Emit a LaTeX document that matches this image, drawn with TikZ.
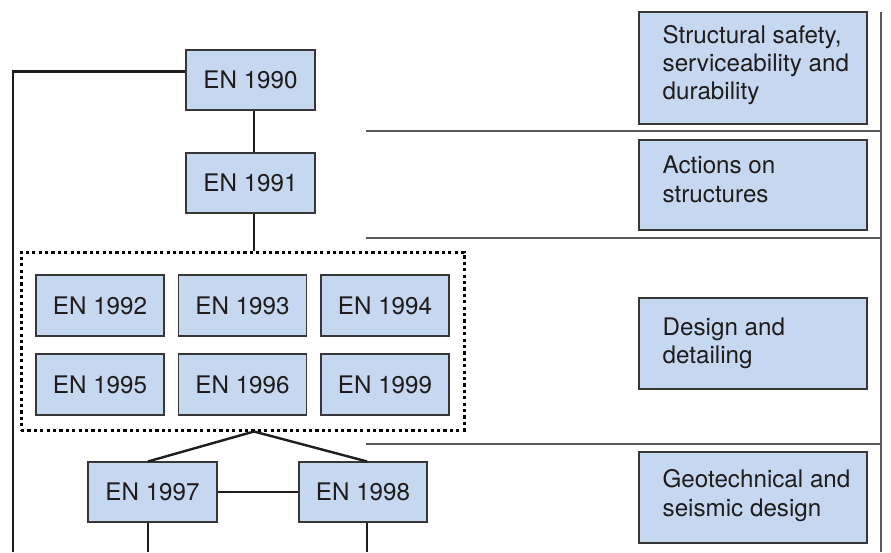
\documentclass[tikz,border=0pt]{standalone}
\usepackage{fontspec}
\setmainfont{TeX Gyre Heros}
\usetikzlibrary{calc}
\definecolor{boxfill}{RGB}{198,216,240}
\definecolor{boxline}{RGB}{55,55,55}
\definecolor{txt}{RGB}{30,28,28}
\definecolor{sepgray}{RGB}{90,90,90}
\begin{document}
\begin{tikzpicture}[x=1pt,y=-1pt,
  enbox/.style={draw=boxline, line width=1.1pt, fill=boxfill, inner sep=0pt,
    minimum height=60pt, minimum width=129pt, text=txt,
    font=\fontsize{24.2}{28.3}\selectfont},
  sidebox/.style={draw=boxline, line width=1.1pt, fill=boxfill, inner sep=0pt,
    minimum width=228pt},
  sidetext/.style={anchor=north west, inner sep=0pt, align=left, text=txt,
    font=\fontsize{24.2}{28.3}\selectfont},
  groupbox/.style={draw=black, line width=3pt, dash pattern=on 3.2pt off 3.2pt,
    inner sep=0pt, minimum width=443pt, minimum height=178pt},
  conn/.style={draw=txt, line width=2.8pt},
  sepline/.style={draw=sepgray, line width=1.4pt}]
\useasboundingbox (0,0) rectangle (891,552);

% separators on the right
\draw[sepline] (366,131) -- (881,131);
\draw[sepline] (366,238) -- (881,238);
\draw[sepline] (366,444) -- (881,444);
\draw[sepline] (881,12) -- (881,552);

% group box
\node[groupbox] (grp) at (242.5,341) {};

% EN boxes
\node[enbox] (n90) at (250.5,80) {EN 1990};
\node[enbox] (n91) at (250.5,183) {EN 1991};
\node[enbox, minimum width=128pt, minimum height=61pt] (n92) at (100,305.5) {EN 1992};
\node[enbox, minimum width=128pt, minimum height=61pt] (n93) at (242.5,305.5) {EN 1993};
\node[enbox, minimum width=128pt, minimum height=61pt] (n94) at (385,305.5) {EN 1994};
\node[enbox, minimum width=128pt, minimum height=61pt] (n95) at (100,384.5) {EN 1995};
\node[enbox, minimum width=128pt, minimum height=61pt] (n96) at (242.5,384.5) {EN 1996};
\node[enbox, minimum width=128pt, minimum height=61pt] (n99) at (385,384.5) {EN 1999};
\node[enbox] (n97) at (152.5,492) {EN 1997};
\node[enbox, minimum width=128pt] (n98) at (363,492) {EN 1998};

% side boxes
\node[sidebox, minimum height=112pt] (rb1) at (753,68) {};
\node[sidebox, minimum height=90pt] (rb2) at (753,185) {};
\node[sidebox, minimum height=91pt] (rb3) at (753,343.5) {};
\node[sidebox, minimum height=91pt] (rb4) at (753,497.5) {};
\node[sidetext] (rt1) at ($(rb1.north west)+(24,13.5)$) {Structural safety,\\serviceability and\\durability};
\node[sidetext] (rt2) at ($(rb2.north west)+(24,16.5)$) {Actions on\\structures};
\node[sidetext] (rt3) at ($(rb3.north west)+(24,20)$) {Design and\\detailing};
\node[sidetext] (rt4) at ($(rb4.north west)+(24,18)$) {Geotechnical and\\seismic design};

% connectors
\coordinate (lbot) at (13,552);
\coordinate (xa) at (254,0);
\coordinate (x97) at (148,0);
\coordinate (x98) at (367,0);
\coordinate (apex) at (grp.south -| xa);
\draw[conn] ($(n90.north west)+(0,22)$) -| (lbot);
\draw[conn] (n90.south -| xa) -- (n91.north -| xa);
\draw[conn] (n91.south -| xa) -- (grp.north -| xa);
\draw[conn, line width=2.4pt] (n97.north -| x97) -- (apex) -- (n98.north -| x98);
\draw[conn] (n97.east) -- (n98.west);
\draw[conn] (n97.south -| x97) -- (x97 |- lbot);
\draw[conn] (n98.south -| x98) -- (x98 |- lbot);
\end{tikzpicture}
\end{document}
